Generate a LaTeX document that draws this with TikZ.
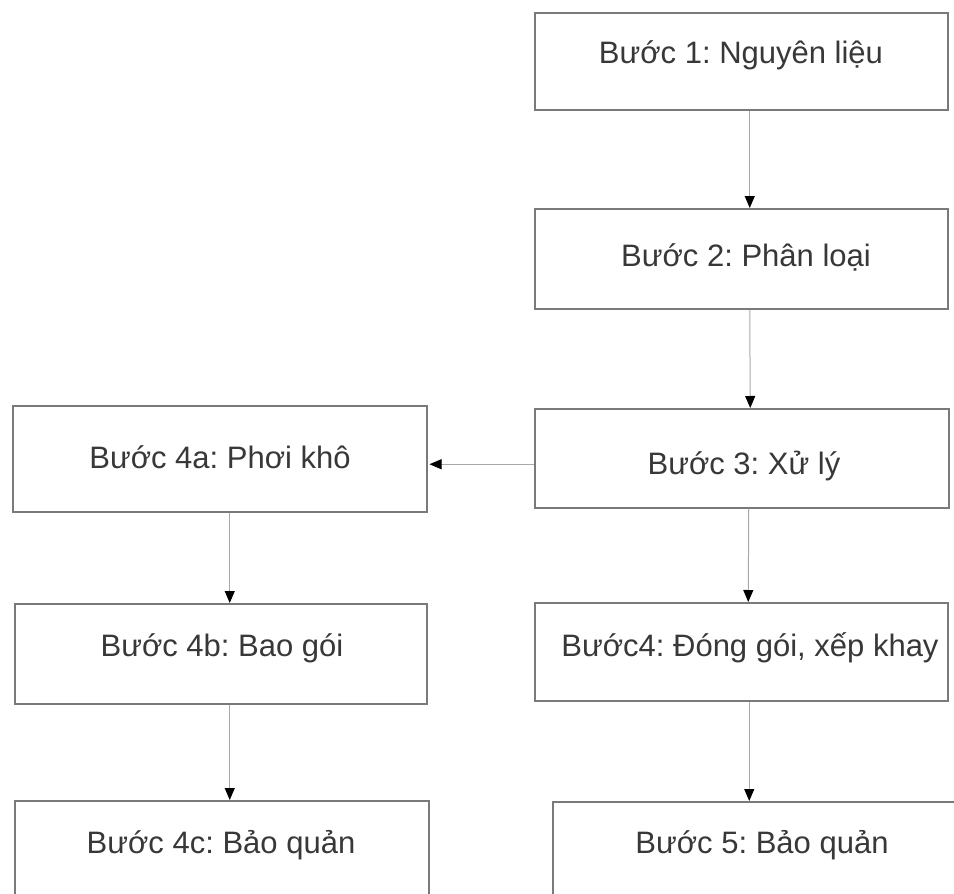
\documentclass[tikz,border=0pt]{standalone}
\usepackage{fontspec}
\setmainfont{Liberation Sans}
\usetikzlibrary{arrows.meta}
\definecolor{boxline}{HTML}{7A7A7A}
\definecolor{arrline}{HTML}{A8A8A8}
\definecolor{txt}{HTML}{383838}
\tikzset{
  stepbox/.style={draw=boxline, line width=1.5pt, inner sep=0pt, anchor=north west, fill=none},
  steptext/.style={anchor=base, text=txt, inner sep=0pt, font=\fontsize{31}{36}\selectfont\frenchspacing},
  flow/.style={draw=arrline, line width=1pt, -{Triangle[length=12pt,width=10pt,color=black]}}
}
\begin{document}
\frenchspacing
\begin{tikzpicture}[x=1pt,y=-1pt]
\fill[white] (0,0) rectangle (954,894);
\useasboundingbox (0,0) rectangle (954,894);
\clip (0,0) rectangle (954,894);
% boxes
\node[stepbox, minimum width=413pt, minimum height=97pt] (b1) at (534,12) {};
\node[stepbox, minimum width=413pt, minimum height=100pt] (b2) at (534,208) {};
\node[stepbox, minimum width=414pt, minimum height=99pt] (b3) at (534,408) {};
\node[stepbox, minimum width=413pt, minimum height=98pt] (b4) at (534,602) {};
\node[stepbox, minimum width=500pt, minimum height=130pt] (b5) at (552,801) {};
\node[stepbox, minimum width=414pt, minimum height=106pt] (b4a) at (12,405) {};
\node[stepbox, minimum width=412pt, minimum height=100pt] (b4b) at (14,603) {};
\node[stepbox, minimum width=414pt, minimum height=130pt] (b4c) at (14,800) {};
% texts
\node[steptext] (t1) at (741,63) {Bước 1: Nguyên liệu};
\node[steptext] (t2) at (746,266) {Bước 2: Phân loại};
\node[steptext] (t3) at (744,474) {Bước 3: Xử lý};
\node[steptext] (t4) at (750,656) {Bước4: Đóng gói, xếp khay};
\node[steptext] (t5) at (762,853) {Bước 5: Bảo quản};
\node[steptext] (t4a) at (220,468) {Bước 4a: Phơi khô};
\node[steptext] (t4b) at (222,656) {Bước 4b: Bao gói};
\node[steptext] (t4c) at (221,853) {Bước 4c: Bảo quản};
% connectors
\draw[flow] ([xshift=8.5pt]b1.south) -- ([xshift=8.5pt]b2.north);
\draw[flow] ([xshift=8.5pt]b2.south) -- ([xshift=8.5pt]b3.north);
\draw[flow] ([xshift=7pt]b3.south) -- ([xshift=7pt]b4.north);
\draw[flow] ([xshift=8pt]b4.south) -- ([xshift=8pt]b4.south |- b5.north);
\draw[flow] ([yshift=-6pt]b3.west) -- ([yshift=-6pt,xshift=2pt]b3.west -| b4a.east);
\draw[flow] ([xshift=10pt]b4a.south) -- ([xshift=10pt]b4a.south |- b4b.north);
\draw[flow] ([xshift=9pt]b4b.south) -- ([xshift=9pt]b4b.south |- b4c.north);
\end{tikzpicture}
\end{document}
